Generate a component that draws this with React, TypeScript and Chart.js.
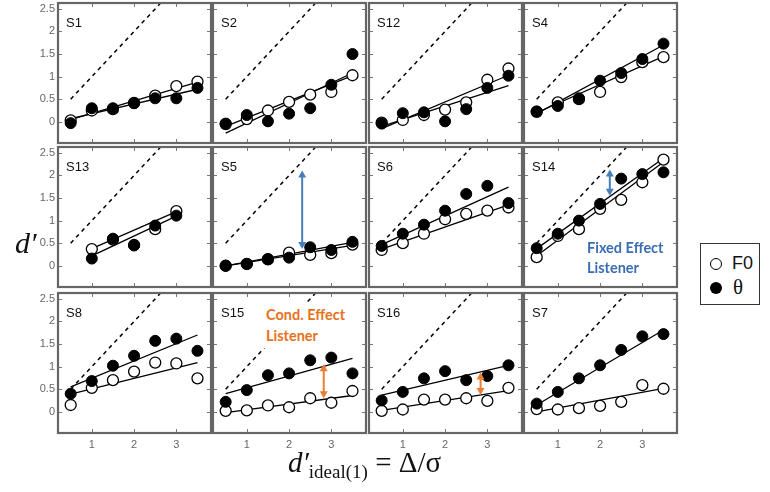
import React, { useEffect, useRef } from 'react';
import { Chart, registerables } from 'chart.js';

Chart.register(...registerables);

// ---------------- data ----------------
const xLevels = [0.5, 1, 1.5, 2, 2.5, 3, 3.5];
const panelNames = ['S1', 'S2', 'S12', 'S4', 'S13', 'S5', 'S6', 'S14', 'S8', 'S15', 'S16', 'S7'];

const f0Values: (number | null)[][] = [
  [0.03, 0.25, 0.28, 0.42, 0.58, 0.79, 0.89], // S1
  [-0.05, 0.06, 0.25, 0.44, 0.6, 0.66, 1.03], // S2
  [-0.02, 0.04, 0.15, 0.27, 0.43, 0.93, 1.18], // S12
  [0.22, 0.43, 0.5, 0.66, 0.99, 1.32, 1.43], // S4
  [null, 0.37, 0.58, 0.46, 0.81, 1.21, null], // S13
  [0.0, 0.04, 0.14, 0.29, 0.24, 0.28, 0.47], // S5
  [0.35, 0.5, 0.71, 1.03, 1.15, 1.22, 1.29], // S6
  [0.19, 0.66, 0.81, 1.26, 1.46, 1.85, 2.35], // S14
  [0.15, 0.53, 0.7, 0.89, 1.09, 1.07, 0.74], // S8
  [0.02, 0.03, 0.14, 0.1, 0.3, 0.2, 0.46], // S15
  [0.02, 0.05, 0.27, 0.27, 0.3, 0.24, 0.53], // S16
  [0.06, 0.05, 0.08, 0.13, 0.22, 0.59, 0.51], // S7
];

const thetaValues: (number | null)[][] = [
  [-0.03, 0.3, 0.3, 0.41, 0.52, 0.52, 0.75], // S1
  [-0.04, 0.15, 0.01, 0.18, 0.3, 0.82, 1.5], // S2
  [-0.04, 0.19, 0.21, 0.01, 0.28, 0.75, 1.02], // S12
  [0.23, 0.35, 0.52, 0.91, 1.08, 1.39, 1.73], // S4
  [null, 0.16, 0.6, 0.45, 0.89, 1.11, null], // S13
  [0.0, 0.04, 0.15, 0.18, 0.41, 0.35, 0.53], // S5
  [0.44, 0.71, 0.91, 1.22, 1.59, 1.77, 1.39], // S6
  [0.39, 0.71, 1.0, 1.37, 1.93, 2.03, 2.07], // S14
  [0.4, 0.68, 1.02, 1.24, 1.57, 1.62, 1.35], // S8
  [0.22, 0.48, 0.81, 0.85, 1.14, 1.2, 0.85], // S15
  [0.25, 0.44, 0.74, 0.9, 0.7, 0.79, 1.03], // S16
  [0.18, 0.44, 0.74, 1.03, 1.37, 1.67, 1.72], // S7
];

// fitted lines: x start/end, y start/end
const fitXStart = [0.5, 0.5, 0.5, 0.5, 1, 0.5, 0.5, 0.5, 0.5, 0.5, 0.5, 0.5];
const fitXEnd = [3.5, 3.5, 3.5, 3.5, 3, 3.5, 3.5, 3.5, 3.5, 3.5, 3.5, 3.5];
const f0FitStart = [0.05, -0.1, -0.15, 0.2, 0.38, 0.0, 0.37, 0.22, 0.39, -0.02, 0.03, 0.0];
const f0FitEnd = [0.88, 1.02, 1.03, 1.45, 1.2, 0.45, 1.35, 2.3, 1.09, 0.36, 0.47, 0.52];
const thetaFitStart = [0.07, -0.25, -0.1, 0.18, 0.22, 0.0, 0.47, 0.38, 0.55, 0.4, 0.37, 0.15];
const thetaFitEnd = [0.72, 1.08, 0.8, 1.7, 1.1, 0.52, 1.74, 2.38, 1.7, 1.18, 1.03, 1.81];

// ideal observer line d' = d'ideal
const idealX = [0.5, 3.0];
const idealY = [0.5, 3.0];

const xTickValues = [1, 2, 3];
const yTickValues = [0, 0.5, 1, 1.5, 2, 2.5];

// double-headed arrows
const arrowPanels = ['S5', 'S14', 'S15', 'S16'];
const arrowX = [2.31, 2.23, 2.82, 2.84];
const arrowLow = [0.37, 1.55, 0.3, 0.37];
const arrowHigh = [2.11, 2.13, 1.05, 0.87];
const arrowColors = ['#4a7ebb', '#4a7ebb', '#ed7d31', '#ed7d31'];

// ---------------- layout ----------------
const COL_LEFT = [58, 213, 369, 524];
const ROW_TOP = [3, 147, 293];
const PW = 153;
const PH = 140;

const panelPlugin = {
  id: 'panelDeco',
  afterDraw(chart: any, _args: any, opts: any) {
    const { ctx, chartArea, scales } = chart;
    const { left, right, top, bottom } = chartArea;
    const x = scales.x;
    const y = scales.y;
    ctx.save();
    // arrows
    (opts.arrows || []).forEach((a: any) => {
      const px = x.getPixelForValue(a.x);
      const p0 = y.getPixelForValue(a.low);
      const p1 = y.getPixelForValue(a.high);
      const hl = 7;
      const hw = 4;
      ctx.strokeStyle = a.color;
      ctx.fillStyle = a.color;
      ctx.lineWidth = 2;
      ctx.beginPath();
      ctx.moveTo(px, p1 + hl - 1);
      ctx.lineTo(px, p0 - hl + 1);
      ctx.stroke();
      ctx.beginPath();
      ctx.moveTo(px, p1);
      ctx.lineTo(px - hw, p1 + hl);
      ctx.lineTo(px + hw, p1 + hl);
      ctx.closePath();
      ctx.fill();
      ctx.beginPath();
      ctx.moveTo(px, p0);
      ctx.lineTo(px - hw, p0 - hl);
      ctx.lineTo(px + hw, p0 - hl);
      ctx.closePath();
      ctx.fill();
    });
    // inward ticks
    ctx.strokeStyle = '#777';
    ctx.lineWidth = 1;
    ctx.beginPath();
    xTickValues.forEach((v) => {
      const px = Math.round(x.getPixelForValue(v)) + 0.5;
      ctx.moveTo(px, top);
      ctx.lineTo(px, top + 4);
      ctx.moveTo(px, bottom);
      ctx.lineTo(px, bottom - 4);
    });
    yTickValues.forEach((v) => {
      const py = Math.round(y.getPixelForValue(v)) + 0.5;
      ctx.moveTo(left, py);
      ctx.lineTo(left + 4, py);
      ctx.moveTo(right, py);
      ctx.lineTo(right - 4, py);
    });
    ctx.stroke();
    // frame
    ctx.strokeStyle = '#666';
    ctx.lineWidth = 2.2;
    ctx.strokeRect(left, top, right - left, bottom - top);
    // panel name
    ctx.fillStyle = '#111';
    ctx.font = '13px "Liberation Sans", Arial, sans-serif';
    ctx.textBaseline = 'middle';
    ctx.textAlign = 'left';
    ctx.fillText(opts.name, left + 8, top + 20);
    ctx.restore();
  },
};

function Panel({ idx }: { idx: number }) {
  const ref = useRef<HTMLCanvasElement>(null);
  const r = Math.floor(idx / 4);
  const c = idx % 4;
  const showX = r === 2;
  const showY = c === 0;
  const padL = showY ? 32 : 2;
  const padB = showX ? 22 : 2;
  const w = PW + padL + 2;
  const h = PH + 2 + padB;

  useEffect(() => {
    const pts = (vals: (number | null)[]) =>
      xLevels
        .map((xv, i) => ({ x: xv, y: vals[i] }))
        .filter((p) => p.y !== null) as { x: number; y: number }[];
    const arrows = arrowPanels
      .map((p, i) => ({ p, x: arrowX[i], low: arrowLow[i], high: arrowHigh[i], color: arrowColors[i] }))
      .filter((a) => a.p === panelNames[idx]);

    const chart = new Chart(ref.current as HTMLCanvasElement, {
      type: 'scatter',
      data: {
        datasets: [
          {
            label: 'θ',
            data: pts(thetaValues[idx]),
            showLine: false,
            pointRadius: 5.5,
            pointBackgroundColor: '#000',
            pointBorderColor: '#000',
            pointBorderWidth: 1,
          },
          {
            label: 'F0',
            data: pts(f0Values[idx]),
            showLine: false,
            pointRadius: 5.5,
            pointBackgroundColor: '#fff',
            pointBorderColor: '#000',
            pointBorderWidth: 1.3,
          },
          {
            label: 'θ fit',
            data: [
              { x: fitXStart[idx], y: thetaFitStart[idx] },
              { x: fitXEnd[idx], y: thetaFitEnd[idx] },
            ],
            showLine: true,
            pointRadius: 0,
            borderColor: '#000',
            borderWidth: 1.3,
          },
          {
            label: 'F0 fit',
            data: [
              { x: fitXStart[idx], y: f0FitStart[idx] },
              { x: fitXEnd[idx], y: f0FitEnd[idx] },
            ],
            showLine: true,
            pointRadius: 0,
            borderColor: '#000',
            borderWidth: 1.3,
          },
          {
            label: 'ideal',
            data: idealX.map((xv, i) => ({ x: xv, y: idealY[i] })),
            showLine: true,
            pointRadius: 0,
            borderColor: '#000',
            borderWidth: 1.5,
            borderDash: [4, 4],
            clip: 0,
          } as any,
        ],
      },
      options: {
        animation: false,
        responsive: false,
        devicePixelRatio: 1,
        events: [],
        layout: { padding: { left: 2, right: 2, top: 2, bottom: 2 }, autoPadding: false },
        plugins: {
          legend: { display: false },
          tooltip: { enabled: false },
          panelDeco: { name: panelNames[idx], arrows },
        } as any,
        scales: {
          x: {
            type: 'linear',
            min: 0.2,
            max: 3.82,
            display: showX,
            afterFit: (s: any) => {
              s.height = showX ? 20 : 0;
              s.paddingLeft = 0;
              s.paddingRight = 0;
              s.paddingTop = 0;
              s.paddingBottom = 0;
            },
            afterBuildTicks: (s: any) => {
              s.ticks = xTickValues.map((v) => ({ value: v }));
            },
            grid: { display: false, drawTicks: false },
            border: { display: false },
            ticks: {
              color: '#666',
              font: { size: 11, family: '"Liberation Sans", Arial, sans-serif' },
              padding: 5,
              maxRotation: 0,
              autoSkip: false,
              callback: (v: any) => String(v),
            },
          },
          y: {
            type: 'linear',
            min: -0.47,
            max: 2.63,
            display: showY,
            afterFit: (s: any) => {
              s.width = showY ? 30 : 0;
              s.paddingLeft = 0;
              s.paddingRight = 0;
              s.paddingTop = 0;
              s.paddingBottom = 0;
            },
            afterBuildTicks: (s: any) => {
              s.ticks = yTickValues.map((v) => ({ value: v }));
            },
            grid: { display: false, drawTicks: false },
            border: { display: false },
            ticks: {
              color: '#666',
              font: { size: 11, family: '"Liberation Sans", Arial, sans-serif' },
              padding: 3,
              autoSkip: false,
              callback: (v: any) => String(v),
            },
          },
        },
      },
      plugins: [panelPlugin],
    } as any);
    return () => chart.destroy();
  }, []);

  return (
    <canvas
      ref={ref}
      width={w}
      height={h}
      style={{ position: 'absolute', left: COL_LEFT[c] - padL, top: ROW_TOP[r] - 2, width: w, height: h }}
    />
  );
}

export default function App() {
  return (
    <div style={{ position: 'absolute', left: 0, top: 0, width: 770, height: 492, background: '#fff', overflow: 'hidden' }}>
      {panelNames.map((_, i) => (
        <Panel key={i} idx={i} />
      ))}
      {/* annotations */}
      <div
        style={{
          position: 'absolute',
          left: 587,
          top: 238,
          font: 'bold 14.5px Lato, "Open Sans", sans-serif',
          lineHeight: '20px',
          color: '#3b6db3',
          whiteSpace: 'nowrap',
        }}
      >
        Fixed Effect
        <br />
        Listener
      </div>
      <div
        style={{
          position: 'absolute',
          left: 259,
          top: 302,
          width: 96,
          height: 46,
          background: '#fff',
        }}
      >
        <div
          style={{
            position: 'absolute',
            left: 7,
            top: 3,
            font: 'bold 14.5px Lato, "Open Sans", sans-serif',
            lineHeight: '20.5px',
            color: '#e8711c',
            whiteSpace: 'nowrap',
          }}
        >
          Cond. Effect
          <br />
          Listener
        </div>
      </div>
      {/* legend */}
      <div
        style={{
          position: 'absolute',
          left: 700,
          top: 243,
          width: 58,
          height: 60,
          border: '1.5px solid #333',
          background: '#fff',
        }}
      >
        <div
          style={{
            position: 'absolute',
            left: 9,
            top: 14,
            width: 10,
            height: 10,
            borderRadius: '50%',
            border: '1.3px solid #000',
            background: '#fff',
          }}
        />
        <div
          style={{
            position: 'absolute',
            left: 31,
            top: 9,
            font: '18px "Liberation Sans", Arial, sans-serif',
            color: '#111',
            lineHeight: '20px',
          }}
        >
          F0
        </div>
        <div
          style={{
            position: 'absolute',
            left: 9,
            top: 38,
            width: 12,
            height: 12,
            borderRadius: '50%',
            background: '#000',
          }}
        />
        <div
          style={{
            position: 'absolute',
            left: 32,
            top: 32,
            font: '21px "Liberation Serif", "Times New Roman", serif',
            color: '#111',
            lineHeight: '22px',
          }}
        >
          θ
        </div>
      </div>
      {/* axis titles */}
      <div
        style={{
          position: 'absolute',
          left: 15,
          top: 226,
          font: 'italic 30px "Liberation Serif", "Times New Roman", serif',
          color: '#111',
          lineHeight: '34px',
        }}
      >
        d′
      </div>
      <div
        style={{
          position: 'absolute',
          left: 288,
          top: 445,
          font: '29px "Liberation Serif", "Times New Roman", serif',
          color: '#111',
          lineHeight: '34px',
          whiteSpace: 'nowrap',
        }}
      >
        <i>d′</i>
        <span style={{ fontSize: 19, position: 'relative', top: 6 }}>ideal(1)</span> = Δ/σ
      </div>
    </div>
  );
}
